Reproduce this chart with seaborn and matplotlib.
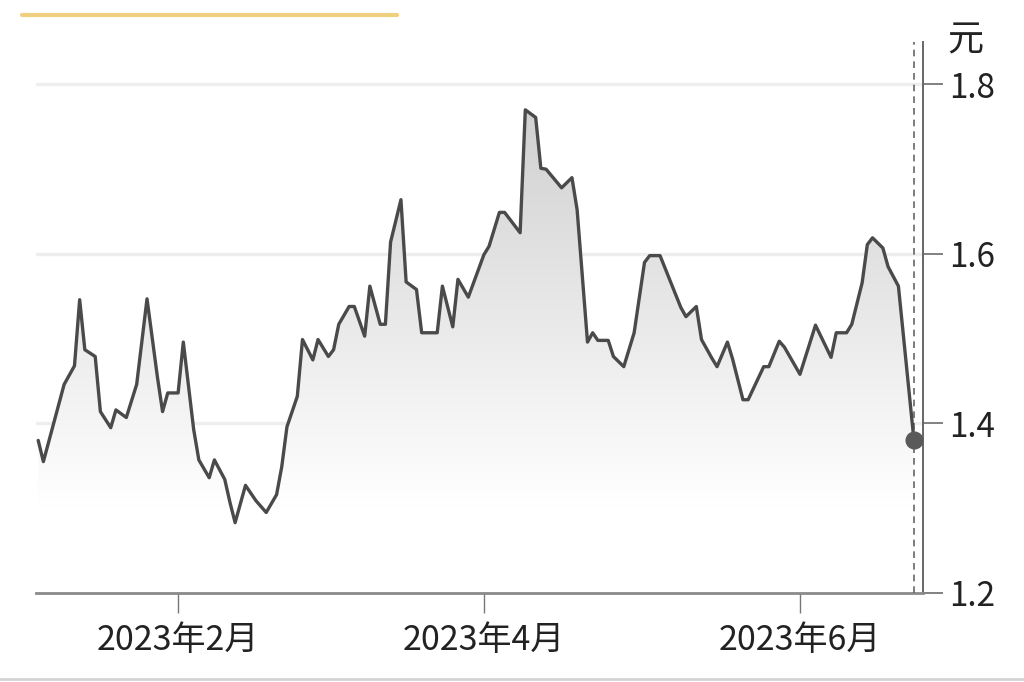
import numpy as np
import pandas as pd
import matplotlib.pyplot as plt
import matplotlib.dates as mdates
from matplotlib.colors import LinearSegmentedColormap
from matplotlib.lines import Line2D
import seaborn as sns

# 股价数据（从图中读取的折点）
dates = [
    "2023-01-05", "2023-01-06", "2023-01-10", "2023-01-12", "2023-01-13", "2023-01-14",
    "2023-01-16", "2023-01-17", "2023-01-19", "2023-01-20", "2023-01-22", "2023-01-24",
    "2023-01-26", "2023-01-28", "2023-01-29", "2023-01-30", "2023-02-01", "2023-02-02",
    "2023-02-04", "2023-02-05", "2023-02-07", "2023-02-08", "2023-02-10", "2023-02-11",
    "2023-02-12", "2023-02-14", "2023-02-15", "2023-02-16", "2023-02-18", "2023-02-20",
    "2023-02-21", "2023-02-22", "2023-02-24", "2023-02-25", "2023-02-27", "2023-02-28",
    "2023-03-02", "2023-03-03", "2023-03-04", "2023-03-06", "2023-03-07", "2023-03-09",
    "2023-03-10", "2023-03-12", "2023-03-13", "2023-03-14", "2023-03-16", "2023-03-17",
    "2023-03-19", "2023-03-20", "2023-03-23", "2023-03-24", "2023-03-26", "2023-03-27",
    "2023-03-29", "2023-04-01", "2023-04-02", "2023-04-04", "2023-04-05", "2023-04-08",
    "2023-04-09", "2023-04-11", "2023-04-12", "2023-04-13", "2023-04-16", "2023-04-18",
    "2023-04-19", "2023-04-21", "2023-04-22", "2023-04-23", "2023-04-25", "2023-04-26",
    "2023-04-28", "2023-04-30", "2023-05-02", "2023-05-03", "2023-05-05", "2023-05-09",
    "2023-05-10", "2023-05-12", "2023-05-13", "2023-05-15", "2023-05-16", "2023-05-18",
    "2023-05-19", "2023-05-21", "2023-05-22", "2023-05-25", "2023-05-26", "2023-05-28",
    "2023-05-29", "2023-06-01", "2023-06-04", "2023-06-07", "2023-06-08", "2023-06-10",
    "2023-06-11", "2023-06-13", "2023-06-14", "2023-06-15", "2023-06-17", "2023-06-18",
    "2023-06-20", "2023-06-23",
]
prices = [
    1.380, 1.355, 1.446, 1.468, 1.546, 1.487,
    1.479, 1.414, 1.395, 1.416, 1.407, 1.446,
    1.547, 1.455, 1.414, 1.436, 1.436, 1.496,
    1.393, 1.357, 1.336, 1.357, 1.334, 1.307,
    1.283, 1.327, 1.318, 1.309, 1.295, 1.316,
    1.349, 1.396, 1.432, 1.499, 1.475, 1.499,
    1.479, 1.487, 1.517, 1.538, 1.538, 1.503,
    1.562, 1.517, 1.517, 1.614, 1.664, 1.567,
    1.558, 1.507, 1.507, 1.562, 1.514, 1.570,
    1.549, 1.599, 1.609, 1.649, 1.649, 1.625,
    1.770, 1.761, 1.701, 1.700, 1.678, 1.690,
    1.652, 1.496, 1.507, 1.498, 1.498, 1.479,
    1.467, 1.507, 1.590, 1.598, 1.598, 1.537,
    1.526, 1.538, 1.499, 1.477, 1.467, 1.496,
    1.476, 1.428, 1.428, 1.467, 1.467, 1.497,
    1.490, 1.458, 1.516, 1.478, 1.507, 1.507,
    1.517, 1.566, 1.611, 1.619, 1.607, 1.585,
    1.562, 1.380,
]

y_ticks = [1.2, 1.4, 1.6, 1.8]
x_ticks = ["2023-02-01", "2023-04-01", "2023-06-01"]
x_labels = ["2023年2月", "2023年4月", "2023年6月"]

sns.set_theme(style="white")
plt.rcParams["font.family"] = ["Noto Sans CJK SC", "DejaVu Sans"]
plt.rcParams["font.weight"] = "light"

df = pd.DataFrame({"date": pd.to_datetime(dates), "price": prices})

fig = plt.figure(figsize=(10.24, 6.82), dpi=100)
ax = fig.add_axes([0.0352, 0.1305, 0.8662, 0.8079])

ylo, yhi = 1.2, 1.85
xlo = pd.Timestamp("2023-01-04 14:00")
xhi = pd.Timestamp("2023-06-24 18:00")

# 网格线
for yv in y_ticks[1:]:
    ax.axhline(yv, color="#eeeeee", lw=2.5, zorder=0)

# 线条
sns.lineplot(data=df, x="date", y="price", ax=ax, color="#4a4a4a", lw=2.4, zorder=4)

# 渐变填充
poly = ax.fill_between(df["date"], df["price"], ylo, facecolor="none", edgecolor="none")
cmap = LinearSegmentedColormap.from_list("g", ["#ffffff", "#c9c9c9"])
yy = np.linspace(ylo, yhi, 300)
grad = np.clip((yy - 1.3) / (yhi - 1.3), 0, 1).reshape(-1, 1)
im = ax.imshow(grad, cmap=cmap, vmin=0, vmax=1, aspect="auto", origin="lower",
               extent=[mdates.date2num(xlo), mdates.date2num(xhi), ylo, yhi], zorder=1)
im.set_clip_path(poly.get_paths()[0], transform=ax.transData)

# 最新点和虚线
last = df.iloc[-1]
ax.axvline(last["date"], color="#666666", lw=1.2, ls=(0, (4, 3)), zorder=3)
ax.plot([last["date"]], [last["price"]], "o", ms=12, color="#5a5a5a", zorder=5, clip_on=False)

ax.set_xlim(xlo, xhi)
ax.set_ylim(ylo, yhi)
ax.set_xlabel("")
ax.set_ylabel("")

ax.yaxis.tick_right()
ax.set_yticks(y_ticks)
ax.set_yticklabels([f"{v:.1f}" for v in y_ticks])
ax.set_xticks(pd.to_datetime(x_ticks))
ax.set_xticklabels(x_labels)

ax.tick_params(axis="y", direction="out", length=14.5, width=1.3, color="#777777",
               pad=4, labelsize=24, labelcolor="#222222", right=True, left=False)
ax.tick_params(axis="x", direction="out", length=14.5, width=1.0, color="#777777",
               pad=7, labelsize=24.5, labelcolor="#222222", bottom=True)

for s in ["left", "top"]:
    ax.spines[s].set_visible(False)
ax.spines["right"].set_color("#666666")
ax.spines["right"].set_linewidth(1.4)
ax.spines["bottom"].set_color("#8a8a8a")
ax.spines["bottom"].set_linewidth(2)

fig.text(965 / 1024, 1 - 40 / 682, "元", ha="center", va="center", fontsize=26, color="#222222")

# 顶部黄线与底部分隔线
fig.add_artist(Line2D([22 / 1024, 397 / 1024], [1 - 15 / 682] * 2, color="#f0d07e", lw=3))
fig.add_artist(Line2D([0, 1], [1 - 679 / 682] * 2, color="#d4d4d4", lw=2))

fig.savefig("out.png", dpi=100)
